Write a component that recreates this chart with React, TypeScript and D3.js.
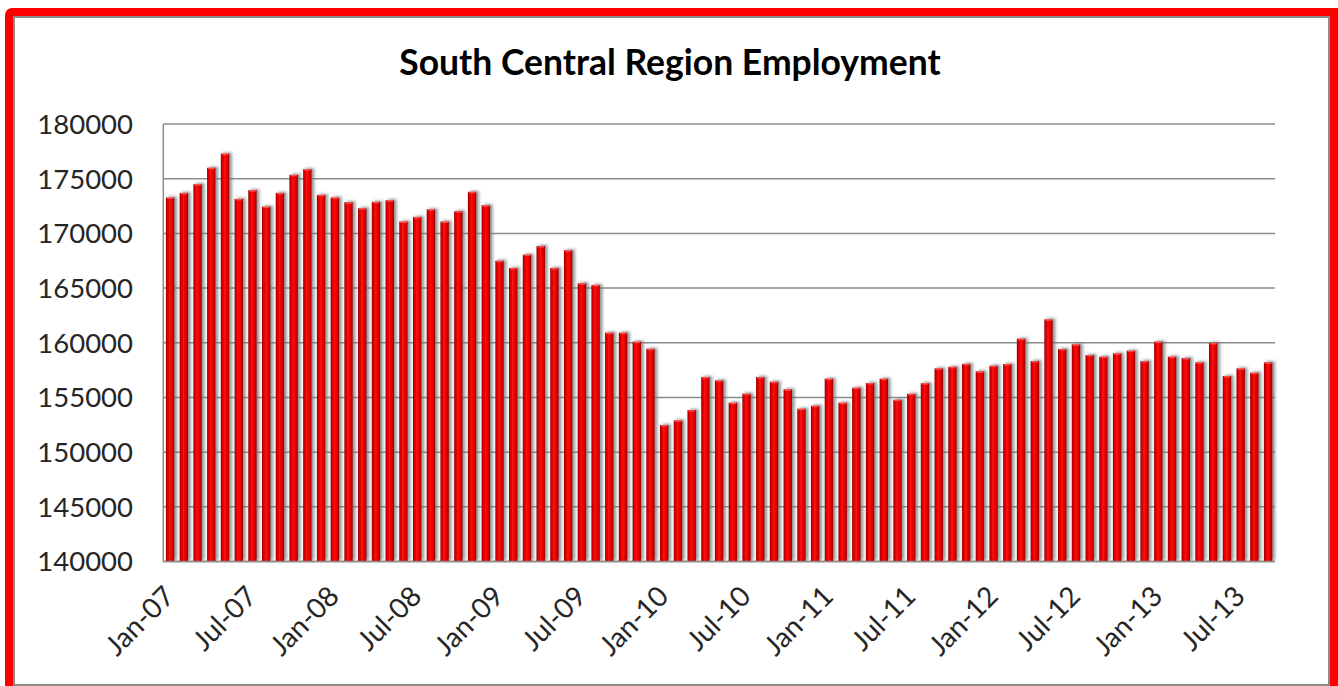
import React from "react";
import * as d3 from "d3";

const TITLE = "South Central Region Employment";

const months: string[] = [];
const monthNames = ["Jan","Feb","Mar","Apr","May","Jun","Jul","Aug","Sep","Oct","Nov","Dec"];
for (let y = 7; y <= 13; y++) {
  for (let m = 0; m < 12; m++) {
    if (y === 13 && m > 8) break;
    months.push(`${monthNames[m]}-${String(y).padStart(2, "0")}`);
  }
}

const employment: number[] = [
  173280, 173700, 174500, 176000, 177300, 173150, 173950, 172450, 173700, 175350, 175870, 173520,
  173280, 172850, 172300, 172880, 173030, 171080, 171500, 172200, 171080, 172025, 173800, 172570,
  167500, 166840, 168060, 168850, 166840, 168460, 165440, 165285, 160925, 160925, 160100, 159450,
  152475, 152900, 153850, 156865, 156560, 154520, 155345, 156865, 156440, 155740, 153970, 154245,
  156715, 154520, 155890, 156320, 156715, 154790, 155330, 156300, 157660, 157800, 158070, 157385,
  157900, 158055, 160375, 158330, 162140, 159430, 159855, 158880, 158730, 159030, 159280, 158330,
  160100, 158730, 158600, 158210, 159980, 156960, 157660, 157265, 158210,
];

const yTicks: number[] = [140000, 145000, 150000, 155000, 160000, 165000, 170000, 175000, 180000];
const xTickLabels: string[] = ["Jan-07","Jul-07","Jan-08","Jul-08","Jan-09","Jul-09","Jan-10","Jul-10","Jan-11","Jul-11","Jan-12","Jul-12","Jan-13","Jul-13"];

const W = 1338;
const H = 686;
const plot = { left: 163.3, right: 1275, top: 124, bottom: 561.5 };
const FONT = "Lato, 'Open Sans', sans-serif";

export default function App() {
  const x = d3
    .scaleBand<string>()
    .domain(months)
    .range([plot.left, plot.right])
    .paddingInner(0.38)
    .paddingOuter(0.19);
  const y = d3.scaleLinear().domain([140000, 180000]).range([plot.bottom, plot.top]);
  const bw = x.bandwidth();

  return (
    <svg
      width={W}
      height={H}
      viewBox={`0 0 ${W} ${H}`}
      style={{ position: "absolute", left: 0, top: 0, display: "block" }}
    >
      <defs>
        <linearGradient id="barGrad" x1="0" x2="1" y1="0" y2="0">
          <stop offset="0%" stopColor="#8c0000" />
          <stop offset="18%" stopColor="#d80000" />
          <stop offset="45%" stopColor="#ff0a0a" />
          <stop offset="75%" stopColor="#e00000" />
          <stop offset="100%" stopColor="#900000" />
        </linearGradient>
        <filter id="shadow" x="-50%" y="-5%" width="200%" height="110%">
          <feDropShadow dx="2.5" dy="-1" stdDeviation="1.4" floodColor="#6e6e6e" floodOpacity="0.75" />
        </filter>
      </defs>

      {/* outer red frame */}
      <rect x={5} y={8} width={1345} height={700} rx={7} ry={7} fill="#ff0000" />
      <rect x={14} y={17} width={1315} height={668} fill="#ffffff" stroke="#8c8c8c" strokeWidth={2} />

      {/* title */}
      <text
        x={670}
        y={75}
        textAnchor="middle"
        fontFamily={FONT}
        fontWeight={700}
        fontSize={35.5}
        fill="#000"
      >
        {TITLE}
      </text>

      {/* gridlines */}
      {yTicks.map((t) => (
        <line
          key={t}
          x1={plot.left}
          x2={plot.right}
          y1={y(t)}
          y2={y(t)}
          stroke="#8c8c8c"
          strokeWidth={1.5}
        />
      ))}
      {/* y axis line */}
      <line x1={plot.left} x2={plot.left} y1={plot.top} y2={plot.bottom} stroke="#8c8c8c" strokeWidth={1.5} />

      {/* y labels */}
      {yTicks.map((t) => (
        <text
          key={"l" + t}
          x={133}
          y={y(t)}
          dy="0.36em"
          textAnchor="end"
          fontFamily={FONT}
          fontSize={27.5}
          fill="#262626"
        >
          {t}
        </text>
      ))}

      {/* bars */}
      <g filter="url(#shadow)">
        {employment.map((v, i) => {
          const bx = x(months[i]) as number;
          const by = y(v);
          return (
            <rect
              key={months[i]}
              x={bx}
              y={by}
              width={bw}
              height={plot.bottom - by}
              fill="url(#barGrad)"
            />
          );
        })}
      </g>
      {/* top highlights */}
      {employment.map((v, i) => {
        const bx = x(months[i]) as number;
        const by = y(v);
        return (
          <rect
            key={"h" + months[i]}
            x={bx + 1}
            y={by}
            width={bw - 2}
            height={1.5}
            fill="#ff6060"
            opacity={0.8}
          />
        );
      })}

      {/* x axis line */}
      <line x1={plot.left} x2={plot.right} y1={plot.bottom} y2={plot.bottom} stroke="#8c8c8c" strokeWidth={1.5} />

      {/* x labels */}
      {xTickLabels.map((lab) => {
        const cx = (x(lab) as number) + bw / 2;
        const ax = cx + 6;
        const ay = 598;
        return (
          <text
            key={lab}
            x={ax}
            y={ay}
            textAnchor="end"
            transform={`rotate(-45 ${ax} ${ay})`}
            fontFamily={FONT}
            fontSize={28}
            fill="#262626"
          >
            {lab}
          </text>
        );
      })}
    </svg>
  );
}
